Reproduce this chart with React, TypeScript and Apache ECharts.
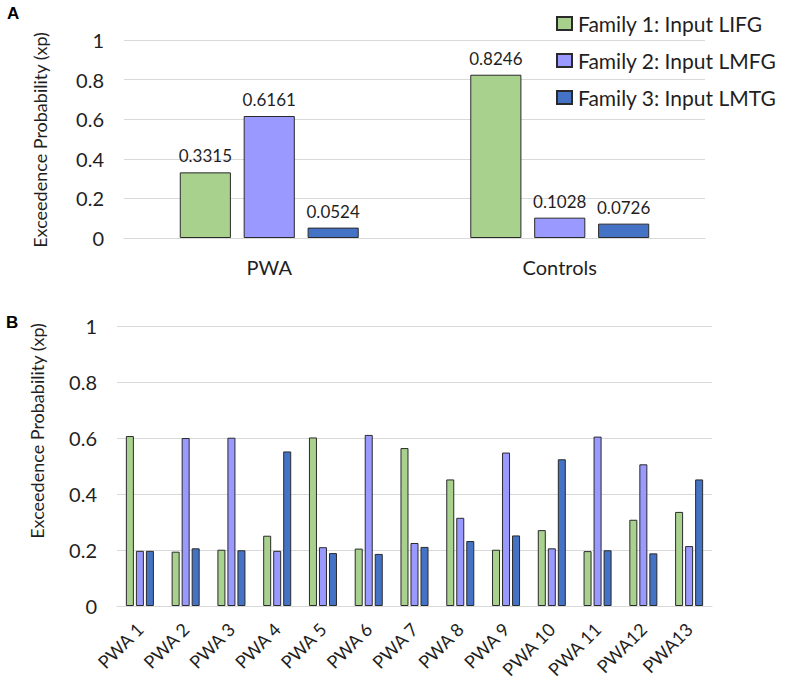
import React, { useEffect, useRef } from "react";
import * as echarts from "echarts";

const seriesNames = ["Family 1: Input LIFG", "Family 2: Input LMFG", "Family 3: Input LMTG"];
const colors = ["#A9D18E", "#9999FF", "#4472C4"];

const groupCategories = ["PWA", "Controls"];
const groupFamily1 = [0.3315, 0.8246];
const groupFamily2 = [0.6161, 0.1028];
const groupFamily3 = [0.0524, 0.0726];

const subjectCategories = [
  "PWA 1", "PWA 2", "PWA 3", "PWA 4", "PWA 5", "PWA 6", "PWA 7",
  "PWA 8", "PWA 9", "PWA 10", "PWA 11", "PWA12", "PWA13",
];
const subjectFamily1 = [0.607, 0.194, 0.201, 0.251, 0.602, 0.205, 0.564, 0.452, 0.201, 0.271, 0.196, 0.308, 0.336];
const subjectFamily2 = [0.197, 0.600, 0.601, 0.197, 0.210, 0.611, 0.225, 0.315, 0.548, 0.206, 0.605, 0.506, 0.214];
const subjectFamily3 = [0.197, 0.206, 0.199, 0.552, 0.189, 0.186, 0.211, 0.232, 0.252, 0.524, 0.199, 0.188, 0.452];

const yTicks = { min: 0, max: 1, interval: 0.2 };

const FONT = "Lato, 'Open Sans', sans-serif";
const TEXT = "#1f1f1f";

export default function App() {
  const ref = useRef<HTMLDivElement>(null);
  useEffect(() => {
    document.body.style.margin = "0";
    const chart = echarts.init(ref.current!, null, { renderer: "svg" });
    const groupData = [groupFamily1, groupFamily2, groupFamily3];
    const subjectData = [subjectFamily1, subjectFamily2, subjectFamily3];
    const yAxisBase = (gi: number) => ({
      type: "value",
      gridIndex: gi,
      min: yTicks.min,
      max: yTicks.max,
      interval: yTicks.interval,
      axisLine: { show: false },
      axisTick: { show: false },
      axisLabel: { fontSize: 20, color: TEXT, fontFamily: FONT, margin: 20 },
      splitLine: { lineStyle: { color: "#d9d9d9", width: 1 } },
    });
    const series: any[] = [];
    groupData.forEach((d, i) => {
      series.push({
        type: "bar",
        name: seriesNames[i],
        xAxisIndex: 0,
        yAxisIndex: 0,
        data: d,
        barWidth: "17.6%",
        barGap: "25%",
        itemStyle: { color: colors[i], borderColor: "#2a2a2a", borderWidth: 1 },
        label: {
          show: true,
          position: "top",
          distance: 8,
          fontSize: 17,
          color: TEXT,
          fontFamily: FONT,
        },
      });
    });
    subjectData.forEach((d, i) => {
      series.push({
        type: "bar",
        name: seriesNames[i],
        xAxisIndex: 1,
        yAxisIndex: 1,
        data: d,
        barWidth: "17.5%",
        barGap: "25%",
        itemStyle: { color: colors[i], borderColor: "#2a2a2a", borderWidth: 1 },
      });
    });
    chart.setOption({
      animation: false,
      backgroundColor: "#fff",
      textStyle: { fontFamily: FONT },
      legend: {
        orient: "vertical",
        left: 551,
        top: 8,
        itemWidth: 15,
        itemHeight: 13,
        itemGap: 16,
        icon: "rect",
        data: seriesNames,
        textStyle: { fontSize: 21, color: TEXT, fontFamily: FONT, padding: [0, 0, 0, 1] },
      },
      grid: [
        { left: 124, right: 82, top: 40, height: 198 },
        { left: 117, right: 75, top: 326, height: 280 },
      ],
      xAxis: [
        {
          type: "category",
          gridIndex: 0,
          data: groupCategories,
          axisLine: { lineStyle: { color: "#d9d9d9" } },
          axisTick: { show: false },
          axisLabel: { fontSize: 20, color: TEXT, fontFamily: FONT, margin: 19 },
        },
        {
          type: "category",
          gridIndex: 1,
          data: subjectCategories,
          axisLine: { lineStyle: { color: "#d9d9d9" } },
          axisTick: { show: false },
          axisLabel: { fontSize: 18, color: TEXT, fontFamily: FONT, rotate: 45, interval: 0, margin: 20 },
        },
      ],
      yAxis: [yAxisBase(0), yAxisBase(1)],
      series,
      graphic: [
        { type: "text", x: 7, y: 5, style: { text: "A", fontSize: 17, fontWeight: "bold", fill: "#000", fontFamily: "Arial, sans-serif" } },
        { type: "text", x: 6, y: 314, style: { text: "B", fontSize: 17, fontWeight: "bold", fill: "#000", fontFamily: "Arial, sans-serif" } },
        {
          type: "text", x: 40, y: 140, rotation: Math.PI / 2,
          style: { text: "Exceedence Probability (xp)", fontSize: 18, fill: TEXT, fontFamily: FONT, align: "center", verticalAlign: "middle" },
        },
        {
          type: "text", x: 37, y: 431, rotation: Math.PI / 2,
          style: { text: "Exceedence Probability (xp)", fontSize: 18, fill: TEXT, fontFamily: FONT, align: "center", verticalAlign: "middle" },
        },
      ],
    });
    return () => chart.dispose();
  }, []);
  return <div ref={ref} style={{ width: 787, height: 687 }} />;
}
